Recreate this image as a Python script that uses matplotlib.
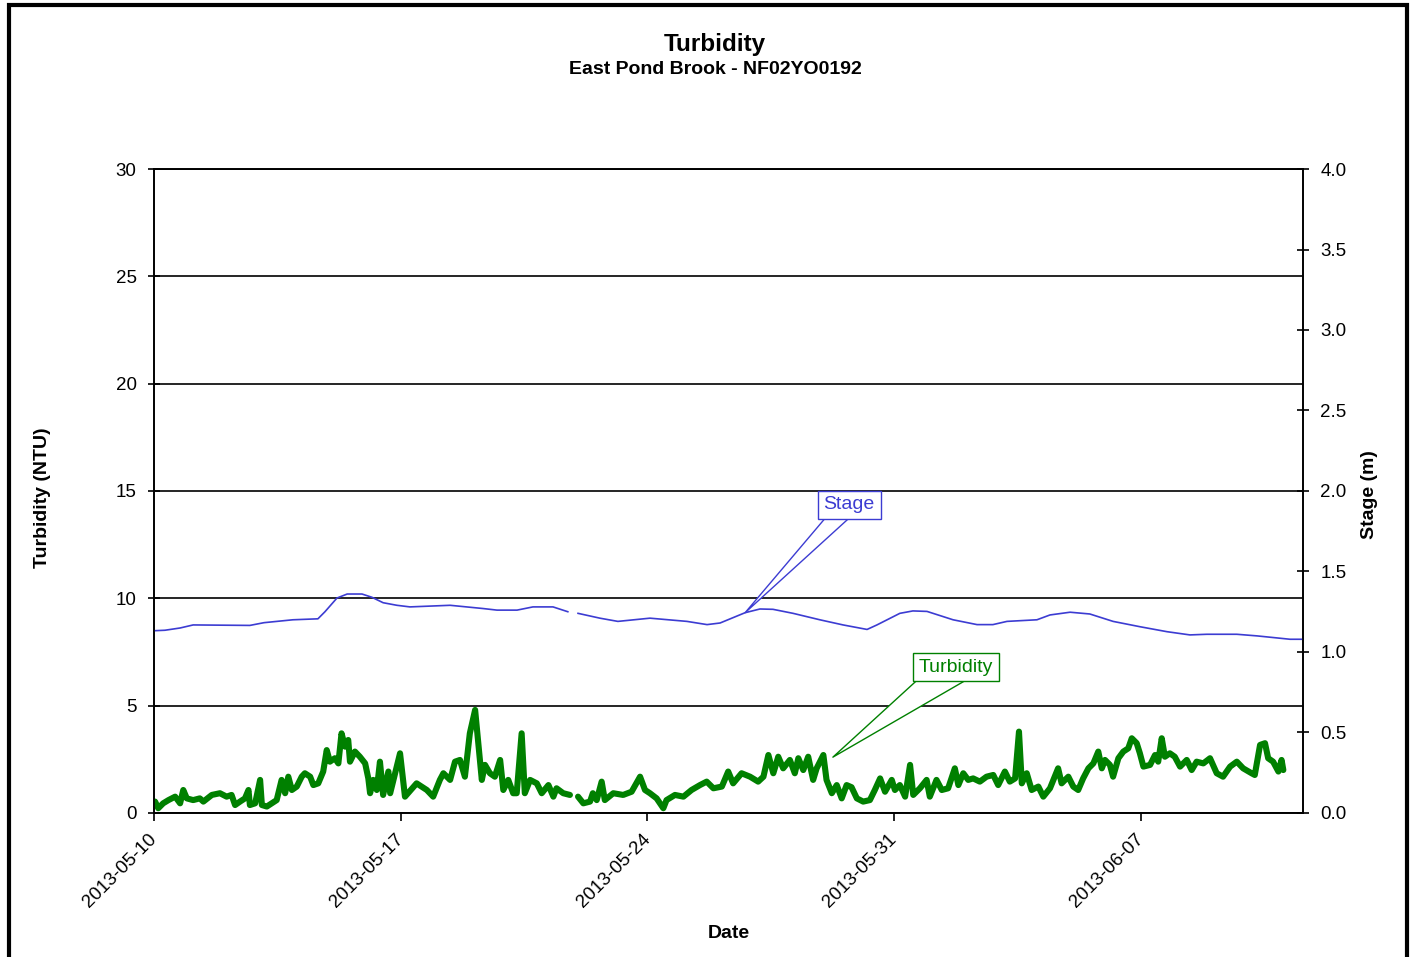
import matplotlib
matplotlib.use('Agg')
import matplotlib.dates as mdates
import matplotlib.pyplot as plt
import numpy as np
import pandas as pd
from matplotlib.patches import Rectangle

plt.rcParams['font.family'] = ['Liberation Sans', 'DejaVu Sans']

GREEN = '#008000'
BLUE = '#3c3cd2'

start = pd.Timestamp('2013-05-10')

# turbidity (NTU), days after 2013-05-10 00:00, gap near 05-22
turb_days = [
    0.03, 0.12, 0.26, 0.41, 0.60, 0.74, 0.83, 0.93, 1.11, 1.30, 1.40, 1.64,
    1.87, 2.06, 2.20, 2.30, 2.44, 2.58, 2.68, 2.72, 2.87, 3.01, 3.06, 3.20,
    3.34, 3.48, 3.62, 3.72, 3.81, 3.91, 4.05, 4.19, 4.28, 4.43, 4.52, 4.66,
    4.80, 4.90, 4.99, 5.13, 5.23, 5.32, 5.42, 5.51, 5.56, 5.70, 5.84, 5.99,
    6.08, 6.13, 6.22, 6.32, 6.41, 6.50, 6.65, 6.70, 6.98, 7.12, 7.45, 7.74,
    7.92, 8.11, 8.21, 8.40, 8.54, 8.68, 8.82, 8.96, 9.11, 9.20, 9.30, 9.39,
    9.53, 9.67, 9.82, 9.91, 10.05, 10.19, 10.29, 10.43, 10.52, 10.67, 10.86,
    11.00, 11.19, 11.33, 11.42, 11.61, 11.80, 11.95,
    12.03, 12.18, 12.37, 12.45, 12.56, 12.70, 12.79, 13.03, 13.31, 13.55,
    13.79, 13.93, 14.07, 14.26, 14.45, 14.54, 14.78, 15.02, 15.25, 15.49,
    15.68, 15.87, 16.11, 16.29, 16.43, 16.67, 16.91, 17.14, 17.29, 17.43,
    17.57, 17.71, 17.85, 18.04, 18.18, 18.28, 18.42, 18.56, 18.70, 18.80,
    18.99, 19.08, 19.23, 19.37, 19.51, 19.65, 19.79, 19.94, 20.12, 20.31,
    20.45, 20.60, 20.74, 20.93, 21.02, 21.16, 21.31, 21.45, 21.54, 21.73,
    21.92, 22.01, 22.20, 22.35, 22.53, 22.72, 22.82, 22.96, 23.10, 23.24,
    23.43, 23.62, 23.81, 23.95, 24.14, 24.28, 24.43, 24.54, 24.62, 24.76,
    24.90, 25.09, 25.23, 25.42, 25.65, 25.75, 25.94, 26.08, 26.22, 26.36,
    26.51, 26.65, 26.79, 26.89, 26.98, 27.12, 27.21, 27.36, 27.50, 27.64,
    27.74, 27.88, 27.97, 28.07, 28.26, 28.40, 28.49, 28.59, 28.68, 28.82,
    28.96, 29.11, 29.30, 29.44, 29.58, 29.77, 29.96, 30.15, 30.33, 30.53,
    30.72, 30.90, 31.14, 31.23, 31.38, 31.52, 31.61, 31.75, 31.90, 31.99,
    32.04,
]
turb_ntu = [
    0.53, 0.22, 0.45, 0.60, 0.76, 0.45, 1.07, 0.68, 0.60, 0.68, 0.53, 0.84,
    0.92, 0.76, 0.84, 0.37, 0.53, 0.68, 1.07, 0.37, 0.45, 1.54, 0.37, 0.30,
    0.45, 0.60, 1.54, 0.92, 1.69, 1.07, 1.23, 1.69, 1.85, 1.69, 1.30, 1.38,
    1.93, 2.93, 2.39, 2.55, 2.31, 3.71, 3.09, 3.40, 2.39, 2.86, 2.62, 2.31,
    1.61, 0.92, 1.54, 1.07, 2.39, 0.84, 1.93, 0.92, 2.78, 0.76, 1.38, 1.07,
    0.76, 1.54, 1.85, 1.54, 2.39, 2.47, 1.69, 3.71, 4.80, 3.25, 1.54, 2.24,
    1.85, 1.69, 2.47, 1.07, 1.54, 0.92, 0.92, 3.71, 0.92, 1.54, 1.38,
    0.92, 1.30, 0.76, 1.15, 0.92, 0.84, np.nan,
    0.76, 0.45, 0.53, 0.92, 0.60, 1.46, 0.60, 0.92, 0.84, 0.99,
    1.69, 1.07, 0.92, 0.68, 0.22, 0.60, 0.84, 0.76, 1.07, 1.30,
    1.46, 1.15, 1.23, 1.93, 1.38, 1.85, 1.69, 1.46, 1.69, 2.70,
    1.85, 2.62, 2.08, 2.47, 1.85, 2.55, 2.00, 2.62, 1.54, 2.08,
    2.70, 1.54, 0.92, 1.30, 0.68, 1.30, 1.20, 0.68, 0.53, 0.60,
    1.07, 1.61, 0.99, 1.54, 1.07, 1.30, 0.76, 2.24, 0.84, 1.15,
    1.54, 0.76, 1.54, 1.07, 1.15, 2.08, 1.30, 1.85, 1.54, 1.61,
    1.46, 1.69, 1.77, 1.30, 1.93, 1.46, 1.61, 3.79, 1.38, 1.85,
    1.07, 1.23, 0.76, 1.15, 2.08, 1.38, 1.69, 1.23, 1.07, 1.61,
    2.08, 2.31, 2.86, 2.08, 2.47, 2.24, 1.69, 2.55, 2.86, 3.01,
    3.48, 3.25, 2.78, 2.16, 2.24, 2.70, 2.39, 3.48, 2.62, 2.78,
    2.62, 2.16, 2.47, 2.00, 2.39, 2.31, 2.55, 1.85, 1.69, 2.16,
    2.39, 2.08, 1.85, 1.77, 3.17, 3.25, 2.55, 2.39, 1.93, 2.47,
    2.00,
]

# stage (m)
stage_days = [
    0.00, 0.31, 0.74, 1.11, 2.72, 3.12, 3.94, 4.65, 4.85, 5.19, 5.48, 5.90,
    6.18, 6.50, 6.89, 7.26, 8.40, 9.33, 9.73, 10.30, 10.75, 11.32, 11.74,
    11.95, 12.03, 12.65, 13.16, 14.07, 15.12, 15.69, 16.06, 16.77, 17.19,
    17.56, 18.13, 18.89, 19.55, 20.23, 20.51, 21.16, 21.53, 21.93, 22.67,
    23.35, 23.80, 24.20, 25.05, 25.42, 25.99, 26.55, 27.21, 27.97, 28.74,
    29.39, 29.87, 30.72, 31.29, 31.74, 32.23, 32.60,
]
stage_m = [
    1.132, 1.135, 1.149, 1.168, 1.165, 1.182, 1.200, 1.206, 1.250, 1.335,
    1.360, 1.360, 1.340, 1.306, 1.290, 1.280, 1.290, 1.270, 1.260, 1.260,
    1.280, 1.280, 1.250, np.nan, 1.240, 1.210, 1.190, 1.210, 1.190, 1.170,
    1.180, 1.244, 1.267, 1.265, 1.240, 1.200, 1.168, 1.140, 1.168, 1.240,
    1.255, 1.252, 1.200, 1.170, 1.170, 1.190, 1.200, 1.230, 1.247, 1.236,
    1.190, 1.157, 1.126, 1.106, 1.110, 1.110, 1.100, 1.090, 1.079, 1.079,
]

turb_time = start + pd.to_timedelta(turb_days, unit='D')
stage_time = start + pd.to_timedelta(stage_days, unit='D')

fig = plt.figure(figsize=(14.13, 9.57), dpi=100)
ax = fig.add_axes([0.109, 0.1505, 0.8132, 0.6729])
ax2 = ax.twinx()

ax.plot(turb_time, turb_ntu, color=GREEN, lw=4.4,
        solid_joinstyle='round', solid_capstyle='round', zorder=3)
ax2.plot(stage_time, stage_m, color=BLUE, lw=1.2)

ax.set_xlim(start, start + pd.Timedelta(days=32.6))
ax.set_ylim(0, 30)
ax2.set_ylim(0, 4)
ax.set_yticks(range(0, 31, 5))
ax2.set_yticks(np.arange(0, 4.01, 0.5))
ax2.yaxis.set_major_formatter(plt.FormatStrFormatter('%.1f'))
ax.set_xticks(pd.date_range('2013-05-10', periods=5, freq='7D'))
ax.xaxis.set_major_formatter(mdates.DateFormatter('%Y-%m-%d'))

ax.grid(axis='y', color='black', lw=1.2)
for a in (ax, ax2):
    for s in a.spines.values():
        s.set_linewidth(1.2)
        s.set_color('black')
ax.tick_params(axis='y', direction='inout', length=9, width=1.2, labelsize=13.5, pad=8)
ax2.tick_params(axis='y', direction='inout', length=9, width=1.2, labelsize=13.5, pad=8)
ax.tick_params(axis='x', direction='out', length=6, width=1.2, labelsize=13.5, pad=11)
for lbl in ax.get_xticklabels():
    lbl.set_rotation(45)
    lbl.set_ha('right')
    lbl.set_va('center')
    lbl.set_rotation_mode('anchor')

ax.set_ylabel('Turbidity (NTU)', fontsize=14, fontweight='bold')
ax.yaxis.set_label_coords(-0.09, 0.49)
ax2.set_ylabel('Stage (m)', fontsize=14, fontweight='bold')
ax2.yaxis.set_label_coords(1.05, 0.495)
ax.set_xlabel('Date', fontsize=14, fontweight='bold')
ax.xaxis.set_label_coords(0.5, -0.174)

fig.text(0.506, 0.954, 'Turbidity', ha='center', va='center',
         fontsize=17.5, fontweight='bold')
fig.text(0.506, 0.927, 'East Pond Brook - NF02YO0192', ha='center', va='center',
         fontsize=14, fontweight='bold')

# callouts: wedge starts under the text box so only its two sides show
ax2.annotate('Stage', xy=(start + pd.Timedelta(days=16.77), 1.244),
             xytext=(start + pd.Timedelta(days=19.72), 1.913),
             ha='center', va='center', fontsize=14, color=BLUE,
             bbox=dict(boxstyle='square,pad=0.3', fc='white', ec=BLUE, lw=1),
             arrowprops=dict(arrowstyle='wedge,tail_width=1.0', fc='white',
                             ec=BLUE, lw=1, patchA=None, shrinkA=0, shrinkB=0))
ax.annotate('Turbidity', xy=(start + pd.Timedelta(days=19.26), 2.6),
            xytext=(start + pd.Timedelta(days=22.75), 6.8),
            ha='center', va='center', fontsize=14, color=GREEN,
            bbox=dict(boxstyle='square,pad=0.3', fc='white', ec=GREEN, lw=1),
            arrowprops=dict(arrowstyle='wedge,tail_width=1.7', fc='white',
                            ec=GREEN, lw=1, patchA=None, shrinkA=0, shrinkB=0))

# outer chart border (bottom edge falls outside the image)
fig.patches.append(Rectangle((8.5 / 1413, -0.05), (1407 - 8.5) / 1413, 1.05 - 5 / 957,
                             transform=fig.transFigure, fill=False, ec='black',
                             lw=3, clip_on=False))

fig.savefig('out.png', dpi=100)
